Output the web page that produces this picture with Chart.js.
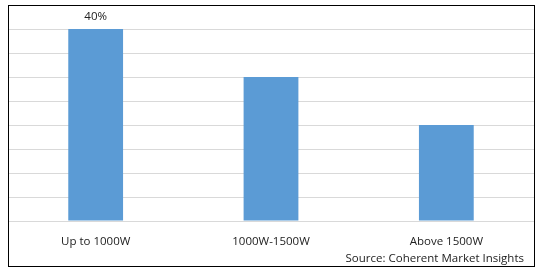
<!DOCTYPE html>
<html>
<head>
<meta charset="utf-8">
<script src="https://cdn.jsdelivr.net/npm/chart.js@4"></script>
<style>
  html, body { margin: 0; padding: 0; background: #fff; }
  #wrap { width: 538px; height: 272px; }
</style>
</head>
<body>
<div id="wrap"><canvas id="powerChart" width="538" height="272"></canvas></div>
<script>
const categories = ['Up to 1000W', '1000W-1500W', 'Above 1500W'];
const shares = [40, 30, 20];
const shareLabels = ['40%', '', ''];
const sourceText = 'Source: Coherent Market Insights';

const fontFamily = '"Open Sans", sans-serif';

// value labels above bars, the source line and the outer frame
const extras = {
    id: 'extras',
    afterDraw(chart) {
        const c = chart.ctx;
        const meta = chart.getDatasetMeta(0);
        c.save();
        c.font = '11.5px ' + fontFamily;
        c.fillStyle = '#222';
        c.textAlign = 'center';
        c.textBaseline = 'middle';
        meta.data.forEach((bar, i) => {
            if (shareLabels[i]) c.fillText(shareLabels[i], bar.x, bar.y - 12);
        });
        c.textAlign = 'right';
        c.fillText(sourceText, 524, 259);
        c.strokeStyle = '#000';
        c.lineWidth = 1;
        c.strokeRect(8.5, 5.5, 526, 261);
        c.restore();
    }
};

const ctx = document.getElementById('powerChart').getContext('2d');
const powerChart = new Chart(ctx, {
    type: 'bar',
    data: {
        labels: categories,
        datasets: [{
            label: 'Share',
            data: shares,
            backgroundColor: '#5b9bd5',
            borderWidth: 0,
            barPercentage: 0.3125,
            categoryPercentage: 1
        }]
    },
    options: {
        responsive: false,
        animation: false,
        layout: { padding: { left: 8, right: 4, top: 5, bottom: 0 } },
        plugins: {
            legend: { display: false },
            tooltip: { enabled: false }
        },
        scales: {
            x: {
                grid: { display: false },
                border: { display: false },
                ticks: {
                    color: '#222',
                    font: { family: fontFamily, size: 11.5 },
                    padding: 6,
                    maxRotation: 0
                },
                afterFit(scale) { scale.height = 51; }
            },
            y: {
                min: 0,
                max: 45,
                ticks: { display: false, stepSize: 5 },
                grid: { color: '#d9d9d9', lineWidth: 1, drawTicks: false },
                border: { display: false }
            }
        }
    },
    plugins: [extras]
});
</script>
</body>
</html>
